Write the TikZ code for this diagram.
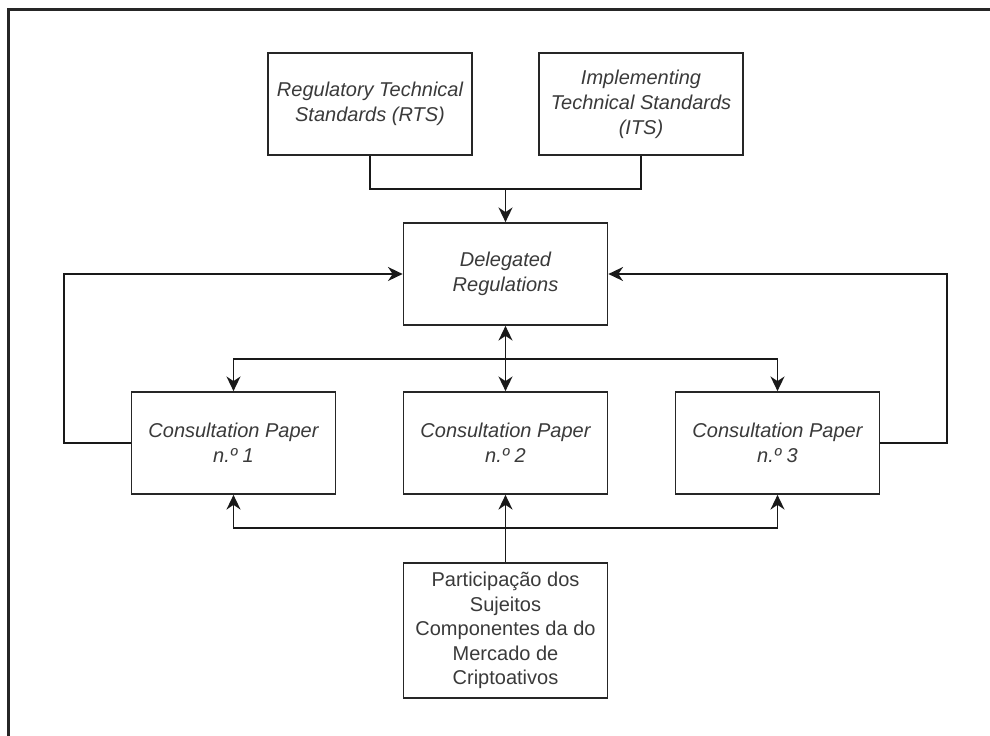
\documentclass[tikz,border=0pt]{standalone}
\usepackage{fontspec}
\setmainfont{Liberation Sans}
\usetikzlibrary{arrows.meta}
\definecolor{txt}{HTML}{3A3A3A}
\tikzset{
  box/.style={draw=black!85, line width=1.3pt, fill=white, minimum width=153pt, minimum height=76.5pt, inner sep=0pt, align=center, text=txt, font=\fontsize{15}{18.75}\selectfont\itshape},
  tallbox/.style={box, minimum height=101.25pt, font=\fontsize{15}{18.4}\selectfont},
  conn/.style={draw=black!90, line width=1.3pt},
  arr/.style={conn, -{Stealth[length=11pt, width=10.5pt, inset=3.5pt]}},
  darr/.style={conn, {Stealth[length=11pt, width=10.5pt, inset=3.5pt]}-{Stealth[length=11pt, width=10.5pt, inset=3.5pt]}}
}
\begin{document}
\begin{tikzpicture}[x=0.75pt, y=-0.75pt]
\useasboundingbox (0,0) rectangle (990,736);
% outer frame (only top and left edges visible)
\draw[line width=1.6pt, black!85] (8.5,740) -- (8.5,9.5) -- (995,9.5);

\node[box] (rts) at (370,104) {Regulatory Technical\\Standards (RTS)};
\node[box] (its) at (641,104) {Implementing\\Technical Standards\\(ITS)};
\node[box] (del) at (505.5,274) {Delegated\\Regulations};
\node[box] (cp1) at (233.5,443) {Consultation Paper\\n.º 1};
\node[box] (cp2) at (505.5,443) {Consultation Paper\\n.º 2};
\node[box] (cp3) at (777.5,443) {Consultation Paper\\n.º 3};
\node[tallbox] (part) at (505.5,630.5) {Participação dos\\Sujeitos\\Componentes da do\\Mercado de\\Criptoativos};

\coordinate (merge) at (505.5,189);
\coordinate (dist) at (505.5,359);
\coordinate (bot) at (505.5,528);
\coordinate (lft) at (64,443);
\coordinate (rgt) at (947,443);

% top merge
\draw[conn] (rts.south) |- (merge) -| (its.south);
\draw[arr] (merge) -- (del.north);

% feedback loops
\draw[arr] (cp1.west) -- (lft) |- (del.west);
\draw[arr] (cp3.east) -- (rgt) |- (del.east);

% distribution
\draw[darr] (del.south) -- (cp2.north);
\draw[arr] (dist) -| (cp1.north);
\draw[arr] (dist) -| (cp3.north);

% bottom participation
\draw[arr] (part.north) -- (cp2.south);
\draw[arr] (bot) -| (cp1.south);
\draw[arr] (bot) -| (cp3.south);
\end{tikzpicture}
\end{document}
